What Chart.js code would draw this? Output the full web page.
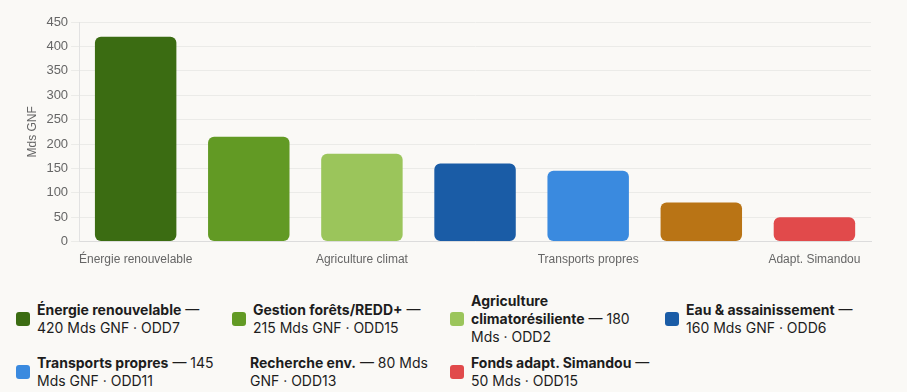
<!DOCTYPE html>
<html lang="fr">
<head>
<meta charset="utf-8">
<script src="https://cdn.jsdelivr.net/npm/chart.js@4"></script>
<style>
  html, body { margin: 0; padding: 0; background: #faf9f6; }
  body { width: 907px; height: 392px; overflow: hidden; }
  .chart-box { position: relative; width: 907px; height: 270px; }
  .legend {
    display: grid;
    grid-template-columns: 216px 218px 215px 230px;
    row-gap: 8px;
    padding: 22px 0 0 16px;
    font-family: "Inter", "Noto Sans", sans-serif;
    font-size: 14px;
    line-height: 18px;
    color: #1d1d1d;
  }
  .legend .item { display: flex; align-items: center; }
  .legend .sw { width: 14px; height: 14px; border-radius: 3px; flex: none; margin-right: 7px; }
  .legend .txt { width: 186px; }
  .legend b { font-weight: 700; }
</style>
</head>
<body>
<div class="chart-box"><canvas id="budgetChart"></canvas></div>
<div class="legend" id="legend"></div>
<script>
// Données du graphique
const categories = ["Énergie renouvelable", "Forêts/REDD+", "Agriculture climat", "Eau & assainissement", "Transports propres", "Recherche env.", "Adapt. Simandou"];
const legendNames = ["Énergie renouvelable", "Gestion forêts/REDD+", "Agriculture climatorésiliente", "Eau & assainissement", "Transports propres", "Recherche env.", "Fonds adapt. Simandou"];
const values = [420, 215, 180, 160, 145, 80, 50];
const units = ["Mds GNF", "Mds GNF", "Mds", "Mds GNF", "Mds GNF", "Mds GNF", "Mds"];
const oddLabels = ["ODD7", "ODD15", "ODD2", "ODD6", "ODD11", "ODD13", "ODD15"];
const colors = ["#3b6c12", "#629a24", "#9bc55b", "#1a5ca6", "#3a8adf", "#b97415", "#e14a4b"];
const yTicks = [0, 50, 100, 150, 200, 250, 300, 350, 400, 450];

document.addEventListener("DOMContentLoaded", () => {
    const ctx = document.getElementById("budgetChart").getContext("2d");

    new Chart(ctx, {
        type: "bar",
        data: {
            labels: categories,
            datasets: [{
                data: values,
                backgroundColor: colors,
                borderRadius: 6,
                borderSkipped: false,
            }],
        },
        options: {
            responsive: true,
            maintainAspectRatio: false,
            animation: false,
            layout: { padding: { top: 22, right: 36, left: 21, bottom: 0 } },
            plugins: {
                legend: { display: false },
                tooltip: { enabled: false },
            },
            scales: {
                x: {
                    grid: { display: false },
                    border: { color: "#dcdcdc" },
                    ticks: {
                        autoSkip: false,
                        maxRotation: 0,
                        color: "#666",
                        font: { family: "Liberation Sans, Arial, sans-serif", size: 12 },
                        callback: (v, i) => (i % 2 === 0 ? categories[i] : ""),
                    },
                },
                y: {
                    min: 0,
                    max: 450,
                    afterBuildTicks: (axis) => { axis.ticks = yTicks.map(v => ({ value: v })); },
                    grid: { color: "#ebebe8" },
                    border: { color: "#e2e2e2" },
                    ticks: {
                        color: "#666",
                        font: { family: "Liberation Sans, Arial, sans-serif", size: 13 },
                    },
                    title: {
                        display: true,
                        text: "Mds GNF",
                        color: "#666",
                        font: { family: "Liberation Sans, Arial, sans-serif", size: 12 },
                    },
                },
            },
        },
    });

    // Légende HTML
    const legend = document.getElementById("legend");
    legendNames.forEach((name, i) => {
        const item = document.createElement("div");
        item.className = "item";
        const sw = i === 5 ? "" : `<span class="sw" style="background:${colors[i]}"></span>`;
        const pad = i === 5 ? ' style="margin-left:18px"' : "";
        item.innerHTML = `${sw}<span class="txt"${pad}><b>${name}</b> — ${values[i]} ${units[i]} · ${oddLabels[i]}</span>`;
        legend.appendChild(item);
    });
});
</script>
</body>
</html>
